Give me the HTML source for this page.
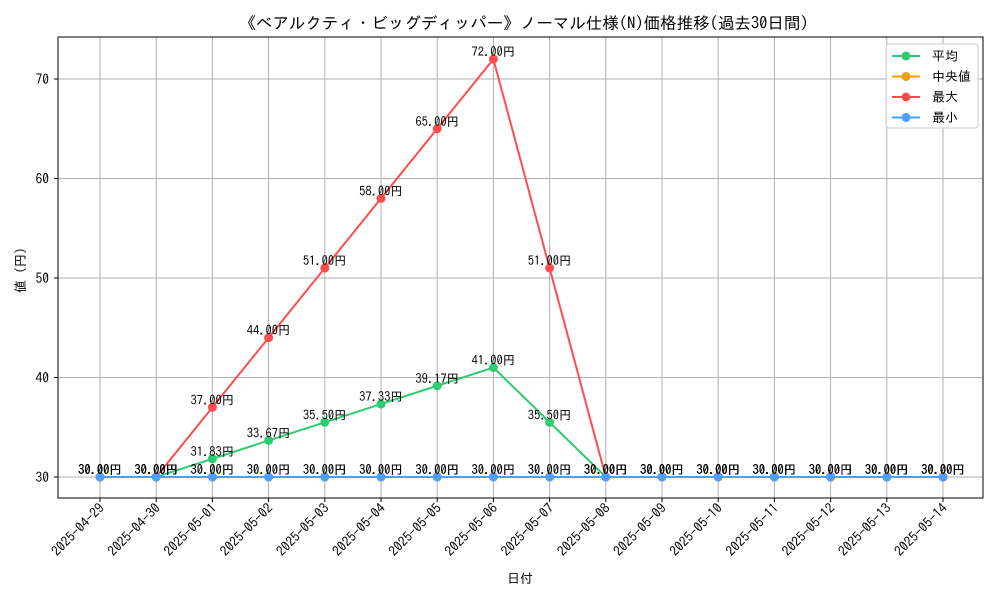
<!DOCTYPE html>
<html><head><meta charset="utf-8"><style>
body{margin:0;background:#fff}
svg{display:block;font-family:"IPAGothic","Liberation Sans","Noto Sans CJK JP",sans-serif}
</style></head><body>
<svg id="chart" width="1000" height="600">
<text x="524" y="29" font-size="16.5" text-anchor="middle">《ベアルクティ・ビッグディッパー》ノーマル仕様(N)価格推移(過去30日間)</text>
<text x="520" y="583" font-size="13" text-anchor="middle">日付</text>
<text x="25" y="267" font-size="13" text-anchor="middle" transform="rotate(-90 25 267)">値（円）</text>
<g id="grid"></g><g id="axes"></g><g id="series"></g><g id="labels"></g>
<rect x="58" y="37" width="925" height="461" fill="none" stroke="#000" stroke-width="1"/>
<g>
<rect x="886" y="44" width="92" height="84" rx="3" fill="#fff" fill-opacity="0.8" stroke="#ccc"/>
<g id="legend"></g>
</g>
</svg>
<script>
const categories=["2025-04-29","2025-04-30","2025-05-01","2025-05-02","2025-05-03","2025-05-04","2025-05-05","2025-05-06","2025-05-07","2025-05-08","2025-05-09","2025-05-10","2025-05-11","2025-05-12","2025-05-13","2025-05-14"];
const meanValues=[30,30,31.83,33.67,35.5,37.33,39.17,41,35.5,30,30,30,30,30,30,30];
const medianValues=[30,30,30,30,30,30,30,30,30,30,30,30,30,30,30,30];
const maxValues=[30,30,37,44,51,58,65,72,51,30,30,30,30,30,30,30];
const minValues=[30,30,30,30,30,30,30,30,30,30,30,30,30,30,30,30];
const yTicks=[30,40,50,60,70];
const seriesNames=["平均","中央値","最大","最小"];
const NS="http://www.w3.org/2000/svg";
const X0=100,X1=943,L=58,R=983,T=37,B=498;
function xs(i){return X0+(X1-X0)*i/(categories.length-1);}
function ys(v){return 477-(v-30)*(477-79)/40;}
function mk(tag,attrs,parent){const e=document.createElementNS(NS,tag);for(const k in attrs)e.setAttribute(k,attrs[k]);parent.appendChild(e);return e;}
const grid=document.getElementById('grid'),axes=document.getElementById('axes'),ser=document.getElementById('series'),lab=document.getElementById('labels'),leg=document.getElementById('legend');
categories.forEach((c,i)=>{
 const x=xs(i);
 const g=mk('line',{x1:x,x2:x,y1:T,y2:B,stroke:'#b0b0b0','stroke-width':1},grid);
 
 
 mk('line',{x1:x,x2:x,y1:B,y2:B+4,stroke:'#000'},axes);
 const t=mk('text',{x:x+5,y:B+11,'font-size':13.5,'text-anchor':'end',transform:`rotate(-45 ${x+5} ${B+11})`},axes);
 t.textContent=c;
 
 
});
yTicks.forEach(v=>{
 const y=ys(v);
 const g=mk('line',{x1:L,x2:R,y1:y,y2:y,stroke:'#b0b0b0','stroke-width':1},grid);
 
 
 mk('line',{x1:L-4,x2:L,y1:y,y2:y,stroke:'#000'},axes);
 const t=mk('text',{x:L-9,y:y+5,'font-size':13.5,'text-anchor':'end'},axes);
 t.textContent=v;
 
 
});
const series=[[meanValues,'#2ecc71','mean'],[medianValues,'#f39c12','median'],[maxValues,'#ff4d4d','max'],[minValues,'#4d9fff','min']];
series.forEach(([vals,col,nm])=>{
 const p=mk('polyline',{points:vals.map((v,i)=>xs(i)+','+ys(v)).join(' '),fill:'none',stroke:col,'stroke-width':2},ser);
 
 
 vals.forEach((v,i)=>{
  const c=mk('circle',{cx:xs(i),cy:ys(v),r:4.5,fill:col},ser);
  
  
  const t=mk('text',{x:xs(i),y:ys(v)-3,'font-size':12.5,'text-anchor':'middle'},lab);
  t.textContent=v.toFixed(2)+'円';
  
  
 });
});
series.forEach(([vals,col,nm],k)=>{
 const y=56+k*20.5;
 mk('line',{x1:892,x2:920,y1:y,y2:y,stroke:col,'stroke-width':2},leg);
 mk('circle',{cx:906,cy:y,r:4.5,fill:col},leg);
 const t=mk('text',{x:932,y:y+4.5,'font-size':13},leg);
 t.textContent=(k==1?' ':'')+seriesNames[k];
 
 
});
</script>
</body></html>
